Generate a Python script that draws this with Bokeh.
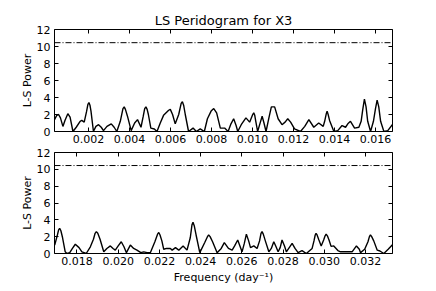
from bokeh.plotting import figure
from bokeh.layouts import column
from bokeh.models import Range1d, LinearAxis, FixedTicker, NumeralTickFormatter, Span
from bokeh.embed import file_html
from bokeh.resources import INLINE

# ---------------- data ----------------
title_text = "LS Peridogram for X3"
y_label = "L-S Power"
x_label = "Frequency (day\u207b\u00b9)"
threshold = 10.45

freq_top = [0.00034, 0.00045, 0.00054, 0.00063, 0.00075, 0.00085, 0.00099, 0.00110, 0.00124, 0.00140,
            0.00159, 0.00167, 0.00179, 0.00190, 0.00197, 0.00202, 0.00207, 0.00212, 0.00224, 0.00236,
            0.00249, 0.00262, 0.00273, 0.00290, 0.00311, 0.00325, 0.00338, 0.00355, 0.00368, 0.00374,
            0.00380, 0.00390, 0.00408, 0.00425, 0.00439, 0.00456, 0.00467, 0.00474, 0.00480, 0.00486,
            0.00492, 0.00504, 0.00521, 0.00534, 0.00550, 0.00566, 0.00591, 0.00599, 0.00610, 0.00623,
            0.00640, 0.00652, 0.00658, 0.00664, 0.00672, 0.00688, 0.00710, 0.00726, 0.00745, 0.00765,
            0.00780, 0.00798, 0.00811, 0.00825, 0.00843, 0.00864, 0.00881, 0.00895, 0.00908, 0.00920,
            0.00928, 0.00945, 0.00968, 0.00986, 0.01001, 0.01006, 0.01011, 0.01016, 0.01025, 0.01036,
            0.01047, 0.01056, 0.01066, 0.01080, 0.01092, 0.01108, 0.01125, 0.01144, 0.01159, 0.01172,
            0.01186, 0.01205, 0.01234, 0.01255, 0.01275, 0.01299, 0.01323, 0.01345, 0.01352, 0.01360,
            0.01364, 0.01369, 0.01376, 0.01397, 0.01416, 0.01437, 0.01454, 0.01465, 0.01478, 0.01498,
            0.01519, 0.01530, 0.01538, 0.01546, 0.01554, 0.01562, 0.01576, 0.01590, 0.01600, 0.01608,
            0.01616, 0.01625, 0.01641, 0.01660, 0.01685]
power_top = [1.4, 1.9, 2.0, 1.6, 0.6, 1.3, 2.1, 1.7, 0.0, 0.5,
             1.2, 1.3, 1.1, 2.3, 3.2, 3.4, 3.1, 2.4, 0.0, 0.6,
             0.8, 0.5, 0.1, 0.6, 0.9, 0.5, 0.0, 1.2, 2.7, 2.9,
             2.6, 1.8, 0.1, 1.0, 1.4, 0.5, 1.8, 2.7, 2.9, 2.6,
             2.0, 0.4, 0.3, 0.0, 1.0, 1.9, 2.5, 2.6, 2.0, 0.9,
             2.0, 3.3, 3.5, 3.1, 2.0, 0.0, 0.4, 0.0, 0.3, 0.0,
             1.5, 2.4, 2.7, 2.2, 0.4, 0.4, 0.0, 0.9, 1.5, 0.7,
             0.0, 0.8, 1.6, 1.1, 2.0, 2.2, 1.9, 1.2, 0.0, 0.9,
             1.8, 1.0, 0.0, 1.6, 2.9, 2.9, 1.5, 0.8, 1.1, 1.5,
             1.1, 0.3, 0.0, 0.6, 1.4, 0.5, 1.0, 0.6, 1.2, 2.1,
             2.4, 2.0, 1.3, 0.0, 0.1, 0.7, 0.5, 0.9, 1.2, 0.4,
             0.5, 1.2, 2.6, 3.8, 2.9, 1.2, 0.0, 1.2, 2.7, 3.7,
             2.9, 1.2, 0.0, 0.1, 0.9]

freq_bot = [0.01692, 0.01705, 0.01711, 0.01716, 0.01722, 0.01730, 0.01743, 0.01751, 0.01765, 0.01778,
            0.01792, 0.01810, 0.01824, 0.01845, 0.01865, 0.01880, 0.01888, 0.01894, 0.01901, 0.01912,
            0.01930, 0.01945, 0.01962, 0.01975, 0.01986, 0.02000, 0.02015, 0.02028, 0.02040, 0.02059,
            0.02075, 0.02091, 0.02110, 0.02124, 0.02140, 0.02156, 0.02178, 0.02191, 0.02197, 0.02203,
            0.02212, 0.02221, 0.02235, 0.02253, 0.02262, 0.02278, 0.02294, 0.02315, 0.02334, 0.02350,
            0.02358, 0.02363, 0.02369, 0.02378, 0.02396, 0.02420, 0.02433, 0.02439, 0.02446, 0.02458,
            0.02480, 0.02500, 0.02515, 0.02535, 0.02553, 0.02565, 0.02580, 0.02592, 0.02601, 0.02612,
            0.02622, 0.02633, 0.02642, 0.02658, 0.02674, 0.02686, 0.02693, 0.02698, 0.02704, 0.02714,
            0.02731, 0.02743, 0.02755, 0.02766, 0.02776, 0.02786, 0.02795, 0.02807, 0.02816, 0.02830,
            0.02844, 0.02858, 0.02873, 0.02892, 0.02913, 0.02941, 0.02950, 0.02956, 0.02960, 0.02965,
            0.02974, 0.02985, 0.02997, 0.03004, 0.03009, 0.03015, 0.03023, 0.03033, 0.03046, 0.03066,
            0.03079, 0.03110, 0.03135, 0.03156, 0.03170, 0.03176, 0.03196, 0.03212, 0.03219, 0.03224,
            0.03230, 0.03240, 0.03257, 0.03270, 0.03289, 0.03310, 0.03333]
power_bot = [1.0, 2.2, 2.8, 3.0, 2.7, 1.9, 0.2, 0.0, 0.1, 0.6,
             1.1, 0.7, 0.2, 0.0, 0.8, 1.7, 2.4, 2.6, 2.4, 1.7,
             0.2, 0.6, 0.9, 0.6, 0.4, 0.9, 1.4, 0.8, 0.1, 1.0,
             0.6, 0.4, 0.1, 0.2, 0.1, 0.1, 1.4, 2.3, 2.5, 2.2,
             1.5, 0.5, 0.6, 0.6, 0.4, 0.7, 0.4, 0.9, 0.4, 1.9,
             3.4, 3.7, 3.3, 2.2, 0.1, 1.3, 2.0, 2.2, 2.0, 1.4,
             0.1, 0.6, 1.3, 0.6, 0.4, 0.9, 1.6, 0.8, 0.2, 1.2,
             2.3, 1.5, 0.7, 0.9, 0.6, 1.5, 2.4, 2.6, 2.3, 1.5,
             0.2, 0.6, 1.4, 0.8, 0.2, 0.7, 1.6, 0.9, 0.2, 0.7,
             1.2, 0.6, 0.1, 0.35, 0.0, 0.6, 1.5, 2.2, 2.4, 2.2,
             1.6, 0.9, 1.6, 2.1, 2.3, 2.1, 1.6, 0.85, 0.9, 0.35,
             0.2, 0.2, 0.2, 0.9, 0.5, 0.1, 0.5, 1.4, 2.0, 2.2,
             2.0, 1.5, 0.4, 0.3, 0.0, 0.5, 1.1]

xrange_top = (0.00034, 0.01683)
xrange_bot = (0.01691, 0.03331)
xticks_top = [0.002, 0.004, 0.006, 0.008, 0.010, 0.012, 0.014, 0.016]
xticks_bot = [0.018, 0.020, 0.022, 0.024, 0.026, 0.028, 0.030, 0.032]
yticks = [0, 2, 4, 6, 8, 10, 12]
yrange = (0, 12)

FONT = "DejaVu Sans"


def style_axis(ax, show_labels=True):
    ax.axis_line_color = None
    ax.major_tick_in = 4
    ax.major_tick_out = 0
    ax.minor_tick_line_color = None
    ax.major_tick_line_color = "black"
    ax.major_label_text_font = FONT
    if show_labels:
        ax.major_label_text_color = "black"
        ax.major_label_text_font_size = "11px"
        ax.major_label_standoff = 3
    else:
        ax.major_label_text_color = None
        ax.major_label_text_font_size = "0px"
        ax.major_label_standoff = 0
    ax.axis_label_text_font = FONT
    ax.axis_label_text_font_size = "11px"
    ax.axis_label_text_font_style = "normal"
    ax.axis_label_text_color = "black"


def make_panel(freq, power, xr, xticks, height, top_border, bottom_border, title=None, xlab=None):
    p = figure(width=436, height=height,
               x_range=Range1d(*xr), y_range=Range1d(*yrange),
               output_backend="svg", toolbar_location=None,
               min_border_left=54, min_border_right=44,
               min_border_top=top_border, min_border_bottom=bottom_border,
               title=title)
    p.background_fill_color = "white"
    p.border_fill_color = "white"
    p.outline_line_color = "black"
    p.outline_line_width = 1
    p.xgrid.grid_line_color = None
    p.ygrid.grid_line_color = None
    if title:
        p.title.align = "center"
        p.title.text_font = FONT
        p.title.text_font_size = "13px"
        p.title.text_font_style = "normal"
        p.title.text_color = "black"
        p.title.standoff = 3

    p.xaxis.ticker = FixedTicker(ticks=xticks)
    p.xaxis.formatter = NumeralTickFormatter(format="0.000")
    p.yaxis.ticker = FixedTicker(ticks=yticks)
    p.yaxis.axis_label = y_label
    style_axis(p.xaxis[0])
    style_axis(p.yaxis[0])
    p.yaxis.major_label_standoff = 4
    p.yaxis.axis_label_standoff = 0
    if xlab:
        p.xaxis.axis_label = xlab
        p.xaxis.axis_label_standoff = 3
        p.xaxis.major_label_standoff = 3

    right = LinearAxis(ticker=FixedTicker(ticks=yticks))
    style_axis(right, show_labels=False)
    p.add_layout(right, "right")
    above = LinearAxis(ticker=FixedTicker(ticks=xticks))
    style_axis(above, show_labels=False)
    p.add_layout(above, "above")

    p.line(freq, power, line_color="black", line_width=1.4)
    p.add_layout(Span(location=threshold, dimension="width", line_color="black",
                      line_width=1, line_dash="6 2 1 2"))
    return p


p_top = make_panel(freq_top, power_top, xrange_top, xticks_top, 146, 29, 15, title=title_text)
p_bot = make_panel(freq_bot, power_bot, xrange_bot, xticks_bot, 140, 6, 32, xlab=x_label)

layout = column(p_top, p_bot, spacing=0)
open("out.html", "w").write(file_html(layout, INLINE))
